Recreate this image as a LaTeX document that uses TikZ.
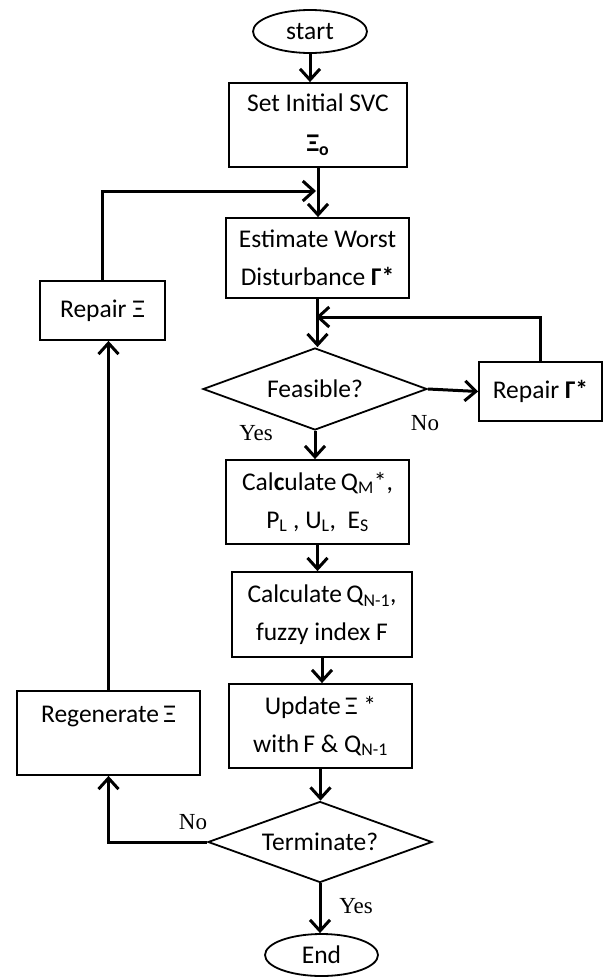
\documentclass[tikz,border=0pt]{standalone}
\usepackage{fontspec}
\setmainfont{Carlito}
\newfontfamily\tnr{Liberation Serif}
\usetikzlibrary{arrows.meta,shapes.geometric,calc}
\begin{document}
\begin{tikzpicture}[x=1pt,y=-1pt,
 box/.style={draw, line width=1.8pt, rectangle, inner sep=0pt, align=center, font=\fontsize{25.5}{38}\selectfont},
 termnode/.style={draw, ellipse, line width=1.8pt, inner sep=0pt, font=\fontsize{25.5}{30}\selectfont},
 dec/.style={draw, diamond, line width=1.8pt, inner sep=0pt, aspect=2.73, font=\fontsize{25.5}{30}\selectfont},
 conn/.style={line width=3pt, -{Straight Barb[length=11pt,width=20pt]}},
 lab/.style={font=\tnr\fontsize{23}{23}\selectfont, inner sep=0pt}
]
\useasboundingbox (0,0) rectangle (603,977);
\node[termnode, minimum width=114pt, minimum height=43pt] (start) at (310,31.5) {start};
\node[box, minimum width=178pt, minimum height=84pt] (set) at (318,125) {Set Initial SVC\\[2pt]\textbf{Ξ\textsubscript{o}}};
\node[box, minimum width=183pt, minimum height=80pt] (est) at (317.5,258) {Estimate Worst\\Disturbance \textbf{Γ*}};
\node[dec, minimum width=224pt, minimum height=82pt] (feas) at (315,389) {Feasible?};
\node[box, minimum width=123pt, minimum height=59pt] (rg) at (540.5,391.5) {Repair \textbf{Γ*}};
\node[box, minimum width=183pt, minimum height=84pt] (cq) at (317.5,502) {Cal\textbf{c}ulate\,Q\textsubscript{M}*,\\P\textsubscript{L} , U\textsubscript{L},\ \ E\textsubscript{S}};
\node[box, minimum width=180pt, minimum height=85pt] (cn) at (322,614.5) {Calculate\,Q\textsubscript{N-1},\\fuzzy index F};
\node[box, minimum width=183pt, minimum height=84pt] (up) at (320.5,726) {Update\,Ξ *\\with\,F \& Q\textsubscript{N-1}};
\node[dec, minimum width=224pt, minimum height=81pt] (term) at (320,842) {Terminate?};
\node[termnode, minimum width=113pt, minimum height=42pt] (end) at (321.5,955) {End};
\node[box, minimum width=125pt, minimum height=59pt] (rx) at (102.5,310.5) {Repair Ξ};
\node[box, minimum width=183pt, minimum height=84pt] (regen) at (108.5,733) {Regenerate\,Ξ\\\mbox{}};
\coordinate (j1) at (316,191);
\coordinate (j2) at (316,317);
\draw[conn] (start.south) -- (start.south |- set.north);
\draw[conn] (set.south) -- (set.south |- est.north);
\draw[conn] (rx.north) |- (j1);
\draw[conn] (est.south) -- (est.south |- feas.north);
\draw[conn] (rg.north) |- (j2);
\draw[conn] (feas.east) -- (rg.west);
\draw[conn] (feas.south) -- (feas.south |- cq.north);
\draw[conn] (cq.south) -- (cq.south |- cn.north);
\draw[conn] (cn.south) -- (cn.south |- up.north);
\draw[conn] (up.south) -- (up.south |- term.north);
\draw[conn] (term.south) -- (term.south |- end.north);
\draw[conn] (term.west) -| (regen.south);
\draw[conn] (regen.north) -- (regen.north |- rx.south);
\node[lab] (l1) at (256,433) {Yes};
\node[lab] (l2) at (425,423) {No};
\node[lab] (l3) at (193,822) {No};
\node[lab] (l4) at (356,906) {Yes};
\end{tikzpicture}
\end{document}
